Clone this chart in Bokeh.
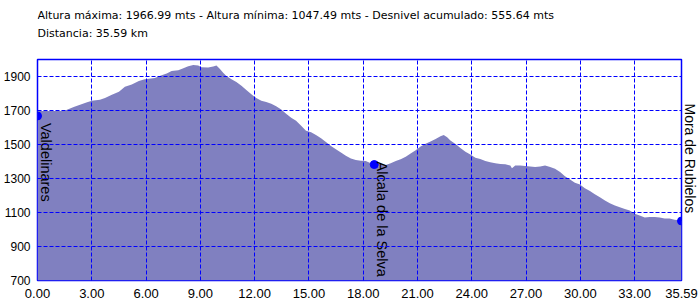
import math
from bokeh.plotting import figure
from bokeh.layouts import column
from bokeh.models import Range1d, FixedTicker, ColumnDataSource, NumeralTickFormatter, Title
from bokeh.core.properties import value
from bokeh.embed import file_html
from bokeh.resources import INLINE

# Profile: distance (km) and altitude (m)
dist_km = [0.00, 0.81, 1.52, 1.63, 2.00, 2.35, 2.74, 3.01, 3.45, 3.73, 4.11, 4.50, 4.83, 5.21, 5.60,
           5.93, 6.48, 6.86, 7.14, 7.41, 7.78, 8.06, 8.33, 8.61, 8.88, 9.06, 9.43, 9.71, 9.89, 10.07,
           10.26, 10.44, 10.72, 10.99, 11.27, 11.54, 11.82, 12.09, 12.37, 12.64, 12.92, 13.19, 13.47,
           13.74, 14.02, 14.29, 14.57, 14.84, 15.12, 15.39, 15.67, 15.94, 16.22, 16.49, 16.77, 17.04,
           17.32, 17.59, 17.87, 18.14, 18.42, 18.70, 18.97, 19.25, 19.52, 19.80, 20.07, 20.35, 20.62,
           20.90, 21.17, 21.45, 21.72, 22.00, 22.27, 22.45, 22.64, 22.82, 23.00, 23.19, 23.37, 23.65,
           23.92, 24.20, 24.47, 24.75, 25.02, 25.30, 25.58, 25.85, 26.13, 26.22, 26.40, 26.68, 26.95,
           27.23, 27.50, 27.78, 28.05, 28.33, 28.60, 28.88, 29.15, 29.43, 29.70, 29.98, 30.25, 30.53,
           30.80, 31.08, 31.36, 31.63, 31.91, 32.18, 32.46, 32.73, 33.01, 33.28, 33.56, 33.83, 34.11,
           34.38, 34.66, 34.93, 35.21, 35.48, 35.59]
elev_m = [1697, 1697, 1698, 1705, 1721, 1734, 1748, 1757, 1763, 1773, 1792, 1811, 1840, 1853, 1874,
          1884, 1891, 1907, 1918, 1932, 1937, 1949, 1960, 1967, 1964, 1955, 1953, 1959, 1964, 1945,
          1922, 1903, 1884, 1868, 1845, 1821, 1796, 1773, 1757, 1750, 1740, 1725, 1706,
          1681, 1658, 1639, 1610, 1581, 1572, 1556, 1537, 1514, 1491, 1472, 1453, 1434,
          1418, 1409, 1405, 1403, 1390, 1390, 1384, 1380, 1390, 1403, 1413, 1428, 1447,
          1466, 1488, 1505, 1518, 1533, 1549, 1556, 1543, 1524, 1510, 1495, 1480, 1457,
          1441, 1422, 1414, 1403, 1395, 1390, 1386, 1384, 1376, 1361, 1376, 1376, 1374,
          1370, 1367, 1370, 1376, 1367, 1357, 1338, 1313, 1294, 1275, 1265, 1242, 1227,
          1207, 1189, 1170, 1154, 1141, 1131, 1121, 1112, 1093, 1083, 1070, 1074, 1074,
          1070, 1064, 1064, 1058, 1055, 1050]

x_ticks = [0, 3, 6, 9, 12, 15, 18, 21, 24, 27, 30, 33, 35.59]
y_ticks = [700, 900, 1100, 1300, 1500, 1700, 1900]

place_names = ["Valdelinares", "Alcala de la Selva", "Mora de Rubielos"]
place_km = [0.0, 18.61, 35.59]
place_elev = [1668, 1382, 1050]

header_lines = [
    "Altura máxima: 1966.99 mts - Altura mínima: 1047.49 mts - Desnivel acumulado: 555.64 mts",
    "Distancia: 35.59 km",
]

BLUE = "#0000ff"
FILL = "#8080c0"

# ---- header strip (pixel coordinates inside a frame aligned with the profile) ----
head = figure(width=700, height=58, output_backend="svg", toolbar_location=None,
              x_range=Range1d(0, 648), y_range=Range1d(58, 0),
              min_border_left=35, min_border_right=17, min_border_top=0, min_border_bottom=0,
              outline_line_color=None,
              background_fill_color="white", border_fill_color="white")
head.axis.visible = False
head.grid.visible = False
head.text(x=[0, 0], y=[15, 33], text=header_lines, text_baseline="alphabetic",
          text_align="left", text_font=value("DejaVu Sans"), text_font_size="11px",
          text_color="black")

# ---- profile ----
p = figure(width=700, height=242, output_backend="svg", toolbar_location=None,
           x_range=Range1d(0, 35.59), y_range=Range1d(700, 2000),
           min_border_left=35, min_border_right=17, min_border_top=1, min_border_bottom=15,
           background_fill_color="white", border_fill_color="white")

p.varea(x=dist_km, y1=y_ticks[0], y2=elev_m, fill_color=FILL, fill_alpha=1.0)

places = ColumnDataSource(dict(x=place_km[:2], y=place_elev[:2], name=place_names[:2],
                               yoff=[7, -3]))
p.scatter(x=place_km, y=place_elev, size=8, fill_color=BLUE, line_color=BLUE)
p.text(x="x", y="y", text="name", source=places, angle=-math.pi / 2,
       x_offset=0, y_offset="yoff",
       text_align="left", text_baseline="bottom",
       text_font=value("Liberation Sans"), text_font_size="14.5px", text_color="black")

# axes
for ax in (p.xaxis, p.yaxis):
    ax.axis_line_color = None
    ax.major_tick_line_color = None
    ax.minor_tick_line_color = None
    ax.major_label_text_font = "Liberation Sans"
    ax.major_label_text_color = "black"

p.xaxis.ticker = FixedTicker(ticks=x_ticks)
p.xaxis.formatter = NumeralTickFormatter(format="0.00")
p.xaxis.major_label_text_font_size = "13px"
p.xaxis.major_label_standoff = 2

p.yaxis.ticker = FixedTicker(ticks=y_ticks)
p.yaxis.major_label_text_font_size = "12px"
p.yaxis.major_label_standoff = 1
p.yaxis.major_label_text_baseline = "alphabetic"

for g in (p.xgrid, p.ygrid):
    g.grid_line_color = BLUE
    g.grid_line_dash = "4 2"
    g.grid_line_width = 1
    g.level = "overlay"

p.outline_line_color = BLUE
p.outline_line_width = 1.5

# last place label sits just outside the frame, on the right
p.add_layout(Title(text=place_names[2], align="left", offset=44, standoff=1,
                   text_font="Liberation Sans", text_font_size="14px",
                   text_font_style="normal", text_color="black"), "right")

layout = column(head, p, spacing=0)
open("out.html", "w").write(file_html(layout, INLINE))
